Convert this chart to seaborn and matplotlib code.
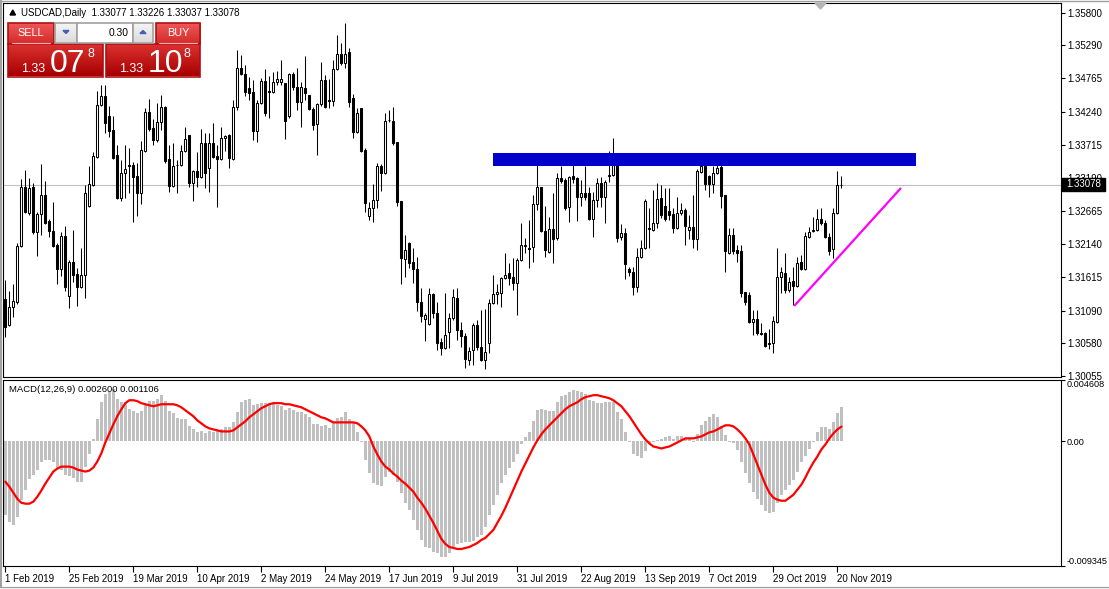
import numpy as np
import matplotlib
matplotlib.use("Agg")
import matplotlib.pyplot as plt
import seaborn as sns
from matplotlib.patches import Rectangle, Polygon
from matplotlib.lines import Line2D
from matplotlib.colors import to_rgb

# ---------------- data (USDCAD daily) ----------------
opens = [
    1.3127, 1.3086, 1.3115, 1.3122, 1.3211, 1.3305, 1.3263, 1.3305, 1.3233, 1.3262,
    1.3292, 1.3251, 1.3235, 1.3213, 1.3175, 1.3227, 1.3132, 1.3186, 1.3167, 1.3146,
    1.3165, 1.3275, 1.3308, 1.3352, 1.3434, 1.3449, 1.3417, 1.3395, 1.3355, 1.3287,
    1.3327, 1.3339, 1.3339, 1.3322, 1.3295, 1.3362, 1.3423, 1.3398, 1.3379, 1.3407,
    1.3431, 1.3349, 1.3306, 1.3339, 1.3339, 1.3362, 1.3387, 1.3311, 1.3330, 1.3320,
    1.3374, 1.3335, 1.3374, 1.3354, 1.3349, 1.3382, 1.3387, 1.3349, 1.3431, 1.3493,
    1.3483, 1.3461, 1.3455, 1.3393, 1.3438, 1.3472, 1.3457, 1.3455, 1.3471, 1.3471,
    1.3469, 1.3417, 1.3483, 1.3463, 1.3439, 1.3461, 1.3450, 1.3428, 1.3404, 1.3436,
    1.3474, 1.3442, 1.3441, 1.3491, 1.3515, 1.3501, 1.3518, 1.3446, 1.3392, 1.3430,
    1.3363, 1.3259, 1.3271, 1.3284, 1.3338, 1.3327, 1.3411, 1.3409, 1.3376, 1.3282,
    1.3191, 1.3216, 1.3186, 1.3175, 1.3122, 1.3096, 1.3088, 1.3135, 1.3105, 1.3059,
    1.3050, 1.3075, 1.3097, 1.3129, 1.3078, 1.3069, 1.3031, 1.3047, 1.3086, 1.3051,
    1.3031, 1.3057, 1.3121, 1.3135, 1.3137, 1.3161, 1.3168, 1.3162, 1.3153, 1.3189,
    1.3211, 1.3208, 1.3210, 1.3278, 1.3305, 1.3235, 1.3202, 1.3238, 1.3224, 1.3319,
    1.3316, 1.3273, 1.3322, 1.3319, 1.3289, 1.3295, 1.3295, 1.3254, 1.3284, 1.3311,
    1.3289, 1.3322, 1.3324, 1.3339, 1.3226, 1.3232, 1.3175, 1.3170, 1.3146, 1.3194,
    1.3208, 1.3240, 1.3237, 1.3248, 1.3287, 1.3275, 1.3267, 1.3262, 1.3240, 1.3263,
    1.3268, 1.3237, 1.3241, 1.3222, 1.3328, 1.3338, 1.3322, 1.3309, 1.3327, 1.3336,
    1.3292, 1.3200, 1.3229, 1.3205, 1.3203, 1.3138, 1.3134, 1.3091, 1.3096, 1.3073,
    1.3073, 1.3057, 1.3057, 1.3091, 1.3162, 1.3168, 1.3142, 1.3156, 1.3148, 1.3186,
    1.3175, 1.3226, 1.3235, 1.3237, 1.3254, 1.3248, 1.3226, 1.3206, 1.3263, 1.33077,
]
highs = [
    1.3157, 1.3140, 1.3151, 1.3216, 1.3317, 1.3331, 1.3319, 1.3311, 1.3265, 1.3341,
    1.3314, 1.3254, 1.3281, 1.3216, 1.3233, 1.3243, 1.3189, 1.3237, 1.3176, 1.3208,
    1.3308, 1.3338, 1.3360, 1.3457, 1.3466, 1.3466, 1.3433, 1.3417, 1.3371, 1.3347,
    1.3371, 1.3366, 1.3344, 1.3343, 1.3377, 1.3430, 1.3444, 1.3412, 1.3438, 1.3450,
    1.3433, 1.3371, 1.3374, 1.3347, 1.3371, 1.3400, 1.3387, 1.3331, 1.3360, 1.3396,
    1.3390, 1.3390, 1.3406, 1.3371, 1.3400, 1.3387, 1.3388, 1.3442, 1.3521, 1.3513,
    1.3497, 1.3479, 1.3474, 1.3442, 1.3477, 1.3491, 1.3480, 1.3486, 1.3488, 1.3506,
    1.3469, 1.3485, 1.3486, 1.3493, 1.3471, 1.3512, 1.3450, 1.3431, 1.3438, 1.3502,
    1.3482, 1.3475, 1.3506, 1.3545, 1.3532, 1.3564, 1.3525, 1.3452, 1.3430, 1.3430,
    1.3366, 1.3281, 1.3309, 1.3343, 1.3341, 1.3422, 1.3426, 1.3431, 1.3376, 1.3282,
    1.3229, 1.3217, 1.3208, 1.3194, 1.3145, 1.3105, 1.3145, 1.3137, 1.3122, 1.3065,
    1.3137, 1.3105, 1.3143, 1.3145, 1.3091, 1.3073, 1.3051, 1.3089, 1.3094, 1.3110,
    1.3111, 1.3127, 1.3165, 1.3151, 1.3162, 1.3200, 1.3184, 1.3192, 1.3192, 1.3248,
    1.3224, 1.3252, 1.3292, 1.3344, 1.3305, 1.3275, 1.3257, 1.3295, 1.3327, 1.3338,
    1.3319, 1.3322, 1.3344, 1.3320, 1.3316, 1.3338, 1.3305, 1.3297, 1.3319, 1.3320,
    1.3316, 1.3362, 1.3382, 1.3343, 1.3246, 1.3240, 1.3178, 1.3178, 1.3208, 1.3221,
    1.3286, 1.3271, 1.3300, 1.3311, 1.3308, 1.3303, 1.3303, 1.3271, 1.3289, 1.3279,
    1.3271, 1.3260, 1.3292, 1.3333, 1.3351, 1.3343, 1.3324, 1.3338, 1.3339, 1.3344,
    1.3292, 1.3240, 1.3240, 1.3213, 1.3213, 1.3138, 1.3138, 1.3110, 1.3110, 1.3089,
    1.3075, 1.3080, 1.3100, 1.3208, 1.3178, 1.3200, 1.3162, 1.3178, 1.3194, 1.3197,
    1.3233, 1.3241, 1.3257, 1.3270, 1.3271, 1.3252, 1.3232, 1.3271, 1.3330, 1.33226,
]
lows = [
    1.3067, 1.3084, 1.3099, 1.3119, 1.3210, 1.3263, 1.3260, 1.3230, 1.3195, 1.3229,
    1.3246, 1.3226, 1.3210, 1.3151, 1.3164, 1.3140, 1.3113, 1.3154, 1.3116, 1.3144,
    1.3129, 1.3273, 1.3306, 1.3350, 1.3432, 1.3390, 1.3384, 1.3349, 1.3286, 1.3282,
    1.3287, 1.3295, 1.3249, 1.3259, 1.3278, 1.3360, 1.3393, 1.3371, 1.3376, 1.3395,
    1.3343, 1.3297, 1.3305, 1.3295, 1.3338, 1.3360, 1.3305, 1.3282, 1.3305, 1.3319,
    1.3303, 1.3297, 1.3351, 1.3273, 1.3347, 1.3362, 1.3335, 1.3347, 1.3426, 1.3482,
    1.3449, 1.3442, 1.3379, 1.3376, 1.3436, 1.3417, 1.3414, 1.3453, 1.3466, 1.3466,
    1.3381, 1.3414, 1.3458, 1.3426, 1.3400, 1.3442, 1.3426, 1.3395, 1.3355, 1.3433,
    1.3430, 1.3430, 1.3433, 1.3490, 1.3497, 1.3493, 1.3431, 1.3382, 1.3390, 1.3360,
    1.3265, 1.3252, 1.3249, 1.3271, 1.3298, 1.3325, 1.3407, 1.3371, 1.3275, 1.3151,
    1.3162, 1.3176, 1.3153, 1.3108, 1.3091, 1.3061, 1.3086, 1.3097, 1.3047, 1.3039,
    1.3048, 1.3050, 1.3094, 1.3062, 1.3051, 1.3018, 1.3023, 1.3023, 1.3047, 1.3029,
    1.3016, 1.3042, 1.3119, 1.3119, 1.3115, 1.3159, 1.3149, 1.3142, 1.3102, 1.3187,
    1.3200, 1.3176, 1.3186, 1.3268, 1.3233, 1.3194, 1.3200, 1.3184, 1.3221, 1.3311,
    1.3268, 1.3249, 1.3311, 1.3251, 1.3275, 1.3284, 1.3252, 1.3226, 1.3273, 1.3273,
    1.3248, 1.3312, 1.3322, 1.3217, 1.3221, 1.3159, 1.3164, 1.3134, 1.3138, 1.3192,
    1.3206, 1.3208, 1.3235, 1.3240, 1.3256, 1.3251, 1.3252, 1.3232, 1.3238, 1.3260,
    1.3213, 1.3222, 1.3208, 1.3205, 1.3327, 1.3300, 1.3289, 1.3295, 1.3325, 1.3271,
    1.3170, 1.3198, 1.3198, 1.3186, 1.3130, 1.3118, 1.3089, 1.3070, 1.3070, 1.3070,
    1.3051, 1.3048, 1.3042, 1.3089, 1.3137, 1.3137, 1.3138, 1.3118, 1.3146, 1.3173,
    1.3173, 1.3224, 1.3233, 1.3235, 1.3244, 1.3224, 1.3197, 1.3192, 1.3262, 1.33037,
]
closes = [
    1.3083, 1.3115, 1.3124, 1.3211, 1.3305, 1.3265, 1.3303, 1.3233, 1.3262, 1.3292,
    1.3248, 1.3235, 1.3211, 1.3175, 1.3227, 1.3146, 1.3186, 1.3165, 1.3146, 1.3165,
    1.3295, 1.3309, 1.3354, 1.3434, 1.3449, 1.3406, 1.3393, 1.3351, 1.3287, 1.3327,
    1.3333, 1.3338, 1.3320, 1.3295, 1.3363, 1.3423, 1.3396, 1.3379, 1.3407, 1.3431,
    1.3346, 1.3306, 1.3338, 1.3340, 1.3362, 1.3381, 1.3311, 1.3330, 1.3320, 1.3374,
    1.3327, 1.3374, 1.3352, 1.3349, 1.3382, 1.3385, 1.3351, 1.3431, 1.3493, 1.3483,
    1.3455, 1.3453, 1.3393, 1.3438, 1.3472, 1.3422, 1.3455, 1.3471, 1.3475, 1.3475,
    1.3409, 1.3483, 1.3463, 1.3439, 1.3463, 1.3453, 1.3428, 1.3403, 1.3436, 1.3474,
    1.3431, 1.3441, 1.3491, 1.3515, 1.3501, 1.3515, 1.3439, 1.3392, 1.3422, 1.3362,
    1.3279, 1.3271, 1.3284, 1.3338, 1.3327, 1.3409, 1.3410, 1.3374, 1.3281, 1.3192,
    1.3205, 1.3184, 1.3175, 1.3122, 1.3100, 1.3102, 1.3135, 1.3105, 1.3057, 1.3050,
    1.3070, 1.3097, 1.3130, 1.3078, 1.3069, 1.3032, 1.3045, 1.3086, 1.3051, 1.3031,
    1.3043, 1.3121, 1.3135, 1.3138, 1.3161, 1.3165, 1.3161, 1.3153, 1.3189, 1.3213,
    1.3212, 1.3206, 1.3278, 1.3305, 1.3235, 1.3205, 1.3238, 1.3222, 1.3319, 1.3314,
    1.3271, 1.3320, 1.3317, 1.3289, 1.3295, 1.3289, 1.3254, 1.3284, 1.3311, 1.3289,
    1.3312, 1.3324, 1.3339, 1.3224, 1.3232, 1.3183, 1.3170, 1.3146, 1.3194, 1.3208,
    1.3282, 1.3238, 1.3248, 1.3286, 1.3260, 1.3254, 1.3260, 1.3240, 1.3263, 1.3268,
    1.3243, 1.3241, 1.3222, 1.3330, 1.3338, 1.3309, 1.3309, 1.3327, 1.3335, 1.3290,
    1.3203, 1.3229, 1.3203, 1.3200, 1.3137, 1.3122, 1.3091, 1.3096, 1.3073, 1.3072,
    1.3053, 1.3056, 1.3092, 1.3162, 1.3170, 1.3142, 1.3154, 1.3148, 1.3184, 1.3175,
    1.3227, 1.3233, 1.3236, 1.3254, 1.3248, 1.3226, 1.3203, 1.3263, 1.3308, 1.33078,
]
macd_main = [
    -0.00550, -0.00603, -0.00626, -0.00566, -0.00437, -0.00362, -0.00279, -0.00249, -0.00211, -0.00158,
    -0.00143, -0.00143, -0.00158, -0.00196, -0.00211, -0.00249, -0.00256, -0.00271, -0.00302, -0.00302,
    -0.00189, -0.00098, 0.00015, 0.00166, 0.00294, 0.00354, 0.00369, 0.00392, 0.00317, 0.00294,
    0.00294, 0.00241, 0.00226, 0.00211, 0.00226, 0.00271, 0.00302, 0.00302, 0.00317, 0.00347,
    0.00302, 0.00226, 0.00211, 0.00173, 0.00166, 0.00166, 0.00113, 0.00090, 0.00068, 0.00075,
    0.00060, 0.00075, 0.00068, 0.00075, 0.00090, 0.00106, 0.00106, 0.00143, 0.00219, 0.00294,
    0.00309, 0.00317, 0.00271, 0.00279, 0.00287, 0.00287, 0.00287, 0.00287, 0.00271, 0.00264,
    0.00234, 0.00249, 0.00234, 0.00219, 0.00219, 0.00204, 0.00181, 0.00128, 0.00128, 0.00113,
    0.00121, 0.00098, 0.00143, 0.00173, 0.00181, 0.00219, 0.00166, 0.00143, 0.00068, -0.00008,
    -0.00136, -0.00234, -0.00309, -0.00324, -0.00332, -0.00264, -0.00226, -0.00249, -0.00302, -0.00385,
    -0.00460, -0.00513, -0.00588, -0.00664, -0.00739, -0.00792, -0.00799, -0.00829, -0.00837, -0.00867,
    -0.00867, -0.00837, -0.00799, -0.00769, -0.00762, -0.00754, -0.00754, -0.00746, -0.00716, -0.00701,
    -0.00641, -0.00550, -0.00475, -0.00400, -0.00309, -0.00249, -0.00196, -0.00151, -0.00098, -0.00023,
    0.00030, 0.00068, 0.00151, 0.00234, 0.00241, 0.00234, 0.00226, 0.00226, 0.00294, 0.00339,
    0.00347, 0.00369, 0.00385, 0.00377, 0.00369, 0.00354, 0.00309, 0.00302, 0.00287, 0.00287,
    0.00294, 0.00294, 0.00294, 0.00219, 0.00166, 0.00068, -0.00008, -0.00098, -0.00113, -0.00128,
    -0.00075, -0.00015, -0.00003, 0.00008, 0.00015, 0.00030, 0.00038, 0.00015, 0.00038, 0.00038,
    0.00023, 0.00023, -0.00008, 0.00053, 0.00121, 0.00151, 0.00181, 0.00204, 0.00181, 0.00113,
    0.00045, -0.00008, -0.00015, -0.00068, -0.00158, -0.00234, -0.00309, -0.00377, -0.00430, -0.00475,
    -0.00520, -0.00535, -0.00528, -0.00460, -0.00400, -0.00362, -0.00324, -0.00287, -0.00226, -0.00158,
    -0.00113, -0.00060, -0.00008, 0.00068, 0.00106, 0.00106, 0.00090, 0.00143, 0.00211, 0.00260,
]
macd_signal = [
    -0.00302, -0.00339, -0.00385, -0.00430, -0.00460, -0.00467, -0.00467, -0.00452, -0.00415, -0.00369,
    -0.00317, -0.00271, -0.00226, -0.00204, -0.00189, -0.00189, -0.00189, -0.00196, -0.00211, -0.00219,
    -0.00226, -0.00219, -0.00196, -0.00151, -0.00090, -0.00008, 0.00060, 0.00128, 0.00189, 0.00241,
    0.00287, 0.00309, 0.00309, 0.00302, 0.00287, 0.00279, 0.00271, 0.00264, 0.00271, 0.00279,
    0.00279, 0.00279, 0.00279, 0.00271, 0.00256, 0.00234, 0.00211, 0.00189, 0.00158, 0.00136,
    0.00113, 0.00098, 0.00090, 0.00083, 0.00075, 0.00075, 0.00075, 0.00083, 0.00106, 0.00128,
    0.00151, 0.00181, 0.00204, 0.00226, 0.00249, 0.00264, 0.00279, 0.00287, 0.00287, 0.00287,
    0.00279, 0.00279, 0.00271, 0.00264, 0.00256, 0.00241, 0.00226, 0.00211, 0.00196, 0.00181,
    0.00173, 0.00158, 0.00143, 0.00143, 0.00143, 0.00143, 0.00143, 0.00143, 0.00136, 0.00113,
    0.00083, 0.00038, -0.00038, -0.00098, -0.00151, -0.00189, -0.00211, -0.00241, -0.00264, -0.00294,
    -0.00317, -0.00347, -0.00377, -0.00422, -0.00460, -0.00505, -0.00558, -0.00611, -0.00671, -0.00731,
    -0.00769, -0.00792, -0.00799, -0.00807, -0.00807, -0.00799, -0.00792, -0.00777, -0.00762, -0.00739,
    -0.00724, -0.00694, -0.00664, -0.00611, -0.00558, -0.00498, -0.00430, -0.00362, -0.00294, -0.00226,
    -0.00166, -0.00106, -0.00045, 0.00008, 0.00053, 0.00090, 0.00121, 0.00151, 0.00181, 0.00211,
    0.00241, 0.00264, 0.00279, 0.00294, 0.00317, 0.00332, 0.00339, 0.00347, 0.00347, 0.00339,
    0.00332, 0.00324, 0.00309, 0.00287, 0.00264, 0.00226, 0.00189, 0.00143, 0.00098, 0.00053,
    0.00015, -0.00015, -0.00038, -0.00045, -0.00053, -0.00045, -0.00038, -0.00023, -0.00008, 0.00008,
    0.00023, 0.00023, 0.00023, 0.00030, 0.00038, 0.00053, 0.00068, 0.00075, 0.00090, 0.00106,
    0.00121, 0.00121, 0.00113, 0.00090, 0.00060, 0.00023, -0.00023, -0.00098, -0.00173, -0.00249,
    -0.00324, -0.00385, -0.00422, -0.00437, -0.00445, -0.00445, -0.00422, -0.00400, -0.00362, -0.00324,
    -0.00271, -0.00211, -0.00158, -0.00113, -0.00060, -0.00023, 0.00023, 0.00060, 0.00090, 0.00111,
]
date_labels = ["1 Feb 2019", "25 Feb 2019", "19 Mar 2019", "10 Apr 2019", "2 May 2019",
               "24 May 2019", "17 Jun 2019", "9 Jul 2019", "31 Jul 2019", "22 Aug 2019",
               "13 Sep 2019", "7 Oct 2019", "29 Oct 2019", "20 Nov 2019"]
bars_per_label = 16
price_ticks = [1.35800, 1.35290, 1.34765, 1.34240, 1.33715, 1.33190,
               1.32665, 1.32140, 1.31615, 1.31090, 1.30580, 1.30055]
macd_ticks = [0.004608, 0.0, -0.009345]
macd_tick_labels = ["0.004608", "0.00", "-0.009345"]
last_price = 1.33078
# resistance zone (bar index range, price range) and support trend line
zone_bars = [121.9, 227.7]
zone_prices = [1.33378, 1.33584]
trend_bars = [197.2, 223.9]
trend_prices = [1.31162, 1.33030]

# ---------------- figure ----------------
W, H = 1109, 589
sns.set_theme(style="white")
plt.rcParams['font.family'] = ['Liberation Sans', 'DejaVu Sans']
plt.rcParams['axes.edgecolor'] = 'black'
plt.rcParams['text.color'] = 'black'
plt.rcParams['xtick.color'] = 'black'
plt.rcParams['ytick.color'] = 'black'

fig = plt.figure(figsize=(W / 100, H / 100), dpi=100)
fig.patch.set_facecolor('white')


def fx(x):
    return x / W


def fy(y):
    return 1 - y / H


ax = fig.add_axes([fx(3), fy(377), fx(1061) - fx(3), fy(3) - fy(377)])
ax2 = fig.add_axes([fx(3), fy(566), fx(1061) - fx(3), fy(380) - fy(566)])
for a in (ax, ax2):
    a.set_facecolor('white')
    for s in a.spines.values():
        s.set_color('black')
        s.set_linewidth(0.8)

idx = np.arange(len(closes))
o = np.array(opens)
c = np.array(closes)
h = np.array(highs)
l = np.array(lows)

# current price line
ax.axhline(last_price, color='#c0c0c0', lw=0.8, zorder=1)

# wicks
ax.vlines(idx, l, h, color='black', lw=0.75, zorder=2)
up = c >= o
bot = np.minimum(o, c)
hgt = np.maximum(np.abs(c - o), 0.00002)
ax.bar(idx[up], hgt[up], bottom=bot[up], width=0.55, facecolor='white',
       edgecolor='black', linewidth=0.75, zorder=3)
ax.bar(idx[~up], hgt[~up], bottom=bot[~up], width=0.55, facecolor='black',
       edgecolor='black', linewidth=0.75, zorder=3)

# resistance zone
ax.add_patch(Rectangle((zone_bars[0], zone_prices[0]), zone_bars[1] - zone_bars[0],
                       zone_prices[1] - zone_prices[0], facecolor='#0000CD',
                       edgecolor='none', zorder=4))
# trend line
ax.plot(trend_bars, trend_prices, color='#FF00FF', lw=1.6, zorder=5,
        solid_capstyle='butt')

xlim = (-0.575, 263.9)
ax.set_xlim(*xlim)
ax.set_ylim(1.30038, 1.35958)
ax.set_xticks([])
ax.yaxis.tick_right()
ax.set_yticks(price_ticks)
ax.set_yticklabels([f"{v:.5f}" for v in price_ticks])
ax.tick_params(axis='y', direction='out', length=3, width=0.8, pad=1.5,
               labelsize=7, right=True, left=False)
ax.grid(False)

# ---------------- MACD ----------------
sns.barplot(x=idx, y=macd_main, native_scale=True, color='#c0c0c0', saturation=1,
            width=0.65, errorbar=None, linewidth=0, ax=ax2, zorder=2)
sns.lineplot(x=idx, y=macd_signal, color='#ff0000', lw=1.6, errorbar=None,
             ax=ax2, zorder=3)
ax2.set_xlim(*xlim)
ax2.set_ylim(-0.009345, 0.004608)
ax2.set_xlabel('')
ax2.set_ylabel('')
ax2.grid(False)
ax2.yaxis.tick_right()
ax2.set_yticks(macd_ticks)
ax2.set_yticklabels(macd_tick_labels)
ax2.tick_params(axis='y', direction='out', length=3, width=0.8, pad=0.8,
                labelsize=6.6, right=True, left=False)
ylabels = ax2.get_yticklabels()
ylabels[0].set_va('top')
ylabels[-1].set_va('bottom')

label_pos = np.arange(len(date_labels)) * bars_per_label
ax2.set_xticks(label_pos)
ax2.set_xticklabels(date_labels)
ax2.tick_params(axis='x', direction='out', length=4, width=0.8, pad=2,
                labelsize=7, bottom=True)
for t in ax2.get_xticklabels():
    t.set_horizontalalignment('left')

fig.text(fx(9), fy(389), "MACD(12,26,9) 0.002600 0.001106", fontsize=6.8,
         ha='left', va='center')

# ---------------- header text ----------------
fig.patches.append(Polygon([(fx(10), fy(15)), (fx(15.5), fy(15)), (fx(12.75), fy(10))],
                           closed=True, transform=fig.transFigure, color='black'))
fig.text(fx(21), fy(13), "USDCAD,Daily  1.33077 1.33226 1.33037 1.33078", fontsize=7,
         ha='left', va='center')

# shift marker at top
fig.patches.append(Polygon([(fx(815), fy(3)), (fx(826), fy(3)), (fx(820.5), fy(9))],
                           closed=True, transform=fig.transFigure, color='#b4b4b4'))

# current price box on price axis
fig.patches.append(Rectangle((fx(1062), fy(190.5)), fx(1105) - fx(1062), fy(178) - fy(190.5),
                             transform=fig.transFigure, color='black', zorder=5))
fig.text(fx(1066), fy(184), "1.33078", color='white', fontsize=7, ha='left', va='center',
         zorder=6)

# window frame
fig.patches.append(Rectangle((0, 0), 1, fy(586.5), transform=fig.transFigure,
                             color='#f0f0f0', zorder=1))
fig.lines.append(Line2D([0, 1], [fy(586.5), fy(586.5)], transform=fig.transFigure,
                        color='#a0a0a0', lw=0.8))
fig.lines.append(Line2D([fx(0.7), fx(0.7)], [fy(586.5), 1], transform=fig.transFigure,
                        color='#909090', lw=1.2))
fig.lines.append(Line2D([0, 1], [fy(0.7), fy(0.7)], transform=fig.transFigure,
                        color='#a0a0a0', lw=1.0))


# ---------------- one-click trading panel ----------------
def grad_box(x0, y0, x1, y1, ctop, cbot, edge=None):
    a = fig.add_axes([fx(x0), fy(y1), fx(x1) - fx(x0), fy(y0) - fy(y1)])
    t = np.linspace(0, 1, 32)[:, None, None]
    c0 = np.array(to_rgb(ctop))[None, None, :]
    c1 = np.array(to_rgb(cbot))[None, None, :]
    img = c0 * (1 - t) + c1 * t
    a.imshow(img, aspect='auto', extent=[0, 1, 0, 1], interpolation='bilinear')
    a.set_xlim(0, 1)
    a.set_ylim(0, 1)
    a.set_axis_off()
    if edge:
        a.add_patch(Rectangle((0, 0), 1, 1, transform=a.transAxes, fill=False,
                              edgecolor=edge, lw=1.2, clip_on=False))
    return a


grad_box(8, 22.5, 53.5, 44, '#f05a5a', '#d42a2a', '#b01010')
grad_box(8, 44, 103, 76.5, '#dc3232', '#a80000', '#b01010')
grad_box(155.5, 22.5, 200, 44, '#f05a5a', '#d42a2a', '#b01010')
grad_box(106, 44, 200, 76.5, '#dc3232', '#a80000', '#b01010')
grad_box(55, 23, 77, 42.5, '#f6f6f6', '#dcdcdc', '#a0a0a0')
grad_box(77, 23, 133, 42.5, '#ffffff', '#ffffff', '#a0a0a0')
grad_box(133, 23, 153, 42.5, '#f6f6f6', '#dcdcdc', '#a0a0a0')

fig.lines.append(Line2D([fx(12), fx(50)], [fy(42.5), fy(42.5)], transform=fig.transFigure,
                        color='#f8b0b0', lw=0.8))
fig.lines.append(Line2D([fx(159), fx(197)], [fy(42.5), fy(42.5)], transform=fig.transFigure,
                        color='#f8b0b0', lw=0.8))
fig.patches.append(Polygon([(fx(63), fy(30.5)), (fx(69), fy(30.5)), (fx(66), fy(33.5))],
                           closed=True, transform=fig.transFigure, color='#4a5cb0', zorder=4))
fig.patches.append(Polygon([(fx(140), fy(33.5)), (fx(146), fy(33.5)), (fx(143), fy(30.5))],
                           closed=True, transform=fig.transFigure, color='#4a5cb0', zorder=4))

fig.text(fx(30.7), fy(32.5), "SELL", color='white', fontsize=7.8, ha='center', va='center')
fig.text(fx(178), fy(32.5), "BUY", color='white', fontsize=7.8, ha='center', va='center')
fig.text(fx(128.5), fy(32.5), "0.30", color='black', fontsize=7.4, ha='right', va='center')

fig.text(fx(21.5), fy(72), "1.33", color='white', fontsize=9, ha='left', va='baseline')
fig.text(fx(49.5), fy(72), "07", color='white', fontsize=23, ha='left', va='baseline')
fig.text(fx(87), fy(57), "8", color='white', fontsize=9, ha='left', va='baseline')
fig.text(fx(119.5), fy(72), "1.33", color='white', fontsize=9, ha='left', va='baseline')
fig.text(fx(147.5), fy(72), "10", color='white', fontsize=23, ha='left', va='baseline')
fig.text(fx(184), fy(57), "8", color='white', fontsize=9, ha='left', va='baseline')

fig.savefig("out.png", dpi=100, facecolor='white')
